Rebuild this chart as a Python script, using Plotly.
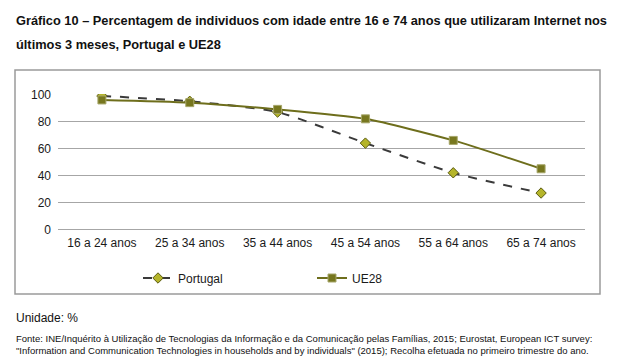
import plotly.graph_objects as go

categories = ["16 a 24 anos", "25 a 34 anos", "35 a 44 anos", "45 a 54 anos", "55 a 64 anos", "65 a 74 anos"]
portugal = [99, 95, 87, 64, 42, 27]
ue28 = [96, 94, 89, 82, 66, 45]
y_ticks = [0, 20, 40, 60, 80, 100]

# page body has an 8px default margin; size the figure so it fits the window
OFF = 8
W, H = 621 - OFF, 360 - OFF
# plot area in reference-pixel coords: x 58..585, y 94..230
L = 58 - OFF
R = W - (585 - OFF)
T = 94 - OFF
B = H - (230 - OFF)
pw = W - L - R
ph = H - T - B

def px_x(p):
    return (p - OFF - L) / pw

def px_y(p):
    return (H - B - (p - OFF)) / ph

fig = go.Figure()
fig.add_trace(go.Scatter(
    x=categories, y=portugal, name="Portugal", mode="lines+markers",
    line=dict(color="#3a3a3a", width=2, dash="dash", shape="spline", smoothing=0.6),
    marker=dict(symbol="diamond", size=8, color="#b5b52a", line=dict(color="#5a5a10", width=1)),
))
fig.add_trace(go.Scatter(
    x=categories, y=ue28, name="UE28", mode="lines+markers",
    line=dict(color="#6e6e1c", width=2, shape="spline", smoothing=0.6),
    marker=dict(symbol="square", size=8, color="#77771f", line=dict(color="#a6a66a", width=1)),
))

fig.update_layout(
    width=W, height=H,
    margin=dict(l=L, r=R, t=T, b=B),
    paper_bgcolor="white", plot_bgcolor="white",
    font=dict(family="Liberation Sans, Arial, sans-serif", size=12, color="#1a1a1a"),
    showlegend=True,
    legend=dict(orientation="h", x=px_x(138), y=px_y(278), xanchor="left", yanchor="middle",
                entrywidth=129, entrywidthmode="pixels", font=dict(size=12),
                bgcolor="rgba(0,0,0,0)"),
    xaxis=dict(range=[-0.5, 5.5], showgrid=False, zeroline=False, showline=False, ticks="",
               tickfont=dict(size=12), ticklabelstandoff=4, fixedrange=True),
    yaxis=dict(range=[-0.4, 100.4], tickvals=y_ticks, showgrid=True, gridcolor="#a6a6a6",
               gridwidth=1, zeroline=True, zerolinecolor="#a6a6a6", zerolinewidth=1,
               showline=False, ticks="", ticklen=0, ticklabelstandoff=6,
               tickfont=dict(size=12), fixedrange=True),
)

fig.add_shape(type="rect", xref="paper", yref="paper",
              x0=px_x(15), x1=px_x(600), y0=px_y(294), y1=px_y(70),
              line=dict(color="#9a9a9a", width=1.5), fillcolor="rgba(0,0,0,0)", layer="below")

fig.add_annotation(text="<b>Gráfico 10 – Percentagem de individuos com idade entre 16 e 74 anos que utilizaram Internet nos</b>",
                   xref="paper", yref="paper", x=px_x(14), y=px_y(21), xanchor="left", yanchor="middle",
                   showarrow=False, font=dict(size=12.8, color="#111111"))
fig.add_annotation(text="<b>últimos 3 meses, Portugal e UE28</b>",
                   xref="paper", yref="paper", x=px_x(14), y=px_y(44), xanchor="left", yanchor="middle",
                   showarrow=False, font=dict(size=12.8, color="#111111"))
fig.add_annotation(text="Unidade: %",
                   xref="paper", yref="paper", x=px_x(14), y=px_y(318), xanchor="left", yanchor="middle",
                   showarrow=False, font=dict(size=12, color="#111111"))
fig.add_annotation(text="Fonte: INE/Inquérito à Utilização de Tecnologias da Informação e da Comunicação pelas Famílias, 2015; Eurostat, European ICT survey:",
                   xref="paper", yref="paper", x=px_x(14), y=px_y(338), xanchor="left", yanchor="middle",
                   showarrow=False, font=dict(size=9.5, color="#111111"))
fig.add_annotation(text="\"Information and Communication Technologies in households and by individuals\" (2015); Recolha efetuada no primeiro trimestre do ano.",
                   xref="paper", yref="paper", x=px_x(14), y=px_y(350), xanchor="left", yanchor="middle",
                   showarrow=False, font=dict(size=9.5, color="#111111"))

fig.write_html("out.html")
